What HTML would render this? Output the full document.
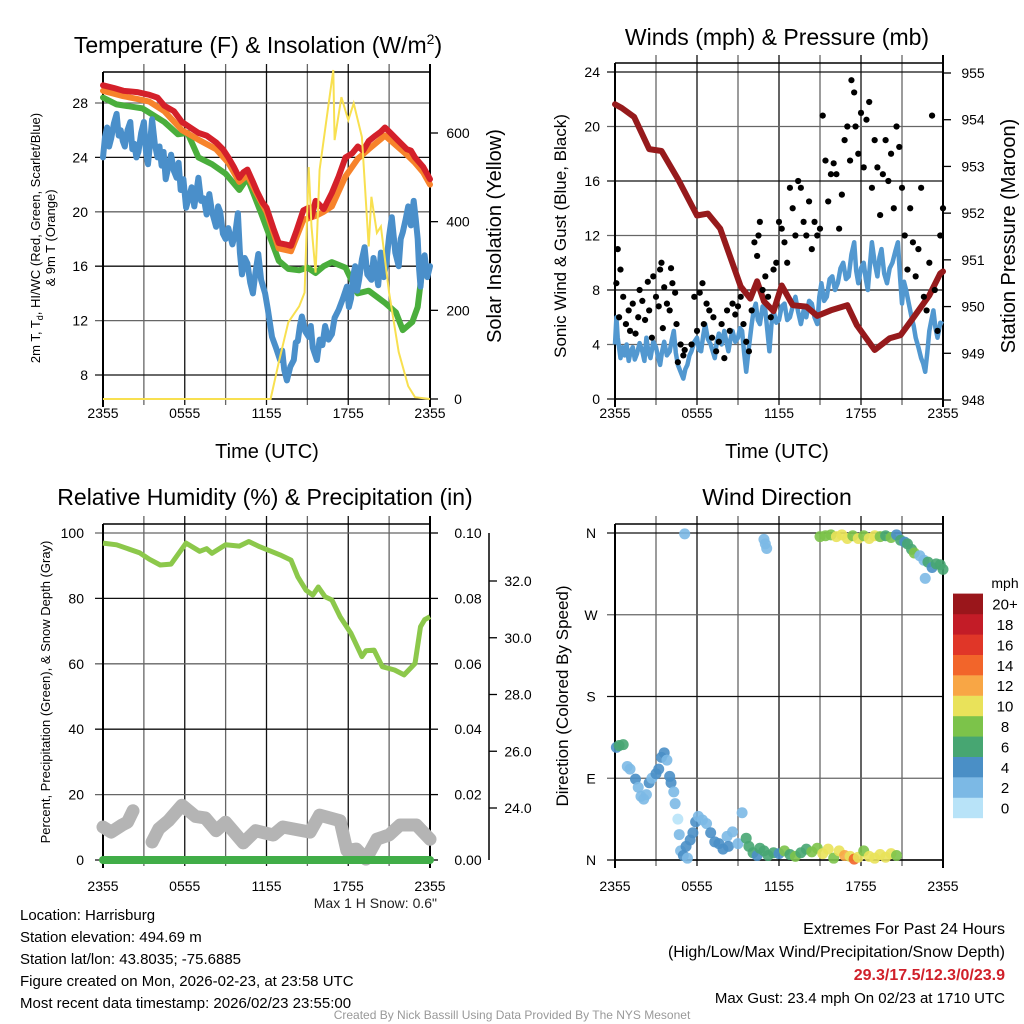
<!DOCTYPE html>
<html><head><meta charset="utf-8"><style>
html,body{margin:0;padding:0;background:#fff}
svg{display:block;font-family:"Liberation Sans",sans-serif}
</style></head><body>
<svg id="fig" width="1024" height="1024" viewBox="0 0 1024 1024">
<g id="root"></g>
</svg>
<script>
// ---------- DATA ----------
const timeTicks = ["2355","0555","1155","1755","2355"];
const tempTicks = [8,12,16,20,24,28];
const solarTicks = [0,200,400,600];
const windTicks = [0,4,8,12,16,20,24];
const presTicks = [948,949,950,951,952,953,954,955];
const rhTicks = [0,20,40,60,80,100];
const precipTicks = ["0.00","0.02","0.04","0.06","0.08","0.10"];
const snowTicks = [24,26,28,30,32];
const dirTicks = ["N","E","S","W","N"];
const speedBins = ["0","2","4","6","8","10","12","14","16","18","20+"];

const tempRed = [[0,29.3],[0.8,29.1],[1.5,28.9],[2.5,28.8],[3.4,28.6],[4,28.4],[4.5,27.8],[5.2,27.4],[5.8,26.6],[6.4,26.2],[7,25.8],[7.6,25.6],[8.3,25.1],[8.8,24.6],[9.2,24.0],[9.6,23.3],[10,22.5],[10.3,22.9],[10.6,23.1],[11,22.2],[11.3,21.5],[11.7,20.7],[12,20.3],[12.5,18.8],[12.9,17.7],[13.4,17.6],[13.8,17.5],[14.2,18.6],[14.7,20.1],[15.1,20.3],[15.3,19.6],[15.6,20.8],[16.2,20.2],[16.8,21.4],[17.3,22.6],[17.8,24.0],[18.3,24.3],[18.7,24.8],[19.1,24.5],[19.5,25.2],[20,25.6],[20.4,25.9],[20.7,26.2],[21.1,25.8],[21.5,25.4],[22,24.9],[22.3,24.6],[22.6,24.5],[22.9,24.0],[23.5,23.3],[24,22.4]];
const tempOrange = [[0,28.9],[1.5,28.5],[2.5,28.3],[3.4,28.1],[4.5,27.4],[5.8,26.0],[7,25.3],[8.3,24.6],[9.2,23.6],[10,22.2],[10.6,22.7],[11.3,21.3],[12,20.0],[12.9,17.3],[13.8,17.1],[14.7,19.4],[15.6,19.7],[16.2,20.0],[16.8,20.4],[17.3,21.5],[17.8,22.6],[18.7,23.9],[19.5,24.6],[20.7,25.6],[21.5,24.9],[22.3,24.2],[22.9,23.6],[23.5,22.9],[24,22.0]];
const tempGreen = [[0,28.4],[1,27.9],[2.9,27.6],[4.5,26.6],[5.5,25.7],[6.2,25.8],[7,24.0],[8,23.5],[9,22.8],[10,21.6],[10.6,22.5],[11.6,19.9],[12.9,16.4],[13.6,15.8],[14.4,15.7],[15,15.9],[15.6,15.5],[16.2,16.0],[16.8,16.3],[17.8,15.9],[18.7,14.0],[19.5,14.2],[20.7,13.3],[21.5,12.6],[22,11.3],[22.7,11.9],[23.1,13.0],[23.4,15.5]];
const tempBlue = [[0,24.0],[0.15,25.5],[0.3,26.2],[0.45,24.8],[0.6,25.4],[0.8,26.5],[1,27.2],[1.15,25.6],[1.3,26.0],[1.45,25.2],[1.6,24.8],[1.8,26.0],[2,26.6],[2.15,24.6],[2.3,25.0],[2.45,24.0],[2.6,24.4],[2.8,25.8],[3,26.6],[3.15,24.5],[3.3,23.5],[3.45,25.0],[3.6,26.8],[3.8,25.0],[4,24.0],[4.15,24.8],[4.3,23.4],[4.45,24.4],[4.6,22.4],[4.8,23.3],[5,24.2],[5.2,23.0],[5.4,22.5],[5.55,23.6],[5.7,21.6],[5.9,22.4],[6.1,20.3],[6.3,21.0],[6.5,21.8],[6.7,20.4],[7,22.5],[7.2,20.8],[7.4,21.0],[7.6,19.8],[7.8,21.3],[8,20.0],[8.3,18.9],[8.45,20.4],[8.6,20.0],[8.8,18.4],[9,18.0],[9.2,18.8],[9.5,17.6],[9.7,18.4],[9.9,19.9],[10.05,17.0],[10.2,15.4],[10.4,16.6],[10.6,16.2],[10.8,14.8],[11,14.0],[11.2,15.6],[11.4,16.9],[11.6,15.0],[11.9,14.0],[12.1,12.8],[12.4,10.8],[12.7,10.0],[13,9.1],[13.15,9.8],[13.3,8.4],[13.5,7.6],[13.75,8.6],[14,9.1],[14.15,10.4],[14.3,10.5],[14.45,11.6],[14.6,12.3],[14.85,11.2],[15.1,10.8],[15.25,11.6],[15.4,10.0],[15.7,9.1],[15.9,10.6],[16.1,10.2],[16.3,11.6],[16.55,10.6],[16.8,11.0],[17,12.2],[17.3,12.8],[17.6,13.6],[17.9,14.5],[18.05,13.0],[18.2,13.6],[18.35,15.2],[18.5,16.0],[18.65,14.2],[18.8,15.0],[19,16.5],[19.2,17.4],[19.4,15.4],[19.7,15.0],[19.85,16.6],[20,15.8],[20.2,14.6],[20.4,17.0],[20.6,15.2],[20.8,16.3],[21,18.2],[21.2,19.6],[21.45,17.0],[21.7,16.0],[21.85,18.0],[22,18.5],[22.2,19.4],[22.4,20.4],[22.6,19.0],[22.8,20.8],[22.95,19.5],[23.1,18.0],[23.2,15.8],[23.3,14.5],[23.45,16.2],[23.6,16.8],[23.8,15.2],[24,16.0]];
const solar = [[0,0],[12.3,0],[12.9,83],[13.6,173],[14.4,209],[14.8,240],[15.1,523],[15.3,389],[15.6,285],[15.9,517],[16.5,652],[16.9,742],[17,584],[17.5,681],[18,629],[18.4,667],[19,591],[19.5,344],[19.7,456],[20.1,375],[20.4,389],[21,240],[21.7,106],[22.4,29],[22.9,4],[24,0]];

const windSpeed = [[0,4],[0.1,6],[0.2,4.5],[0.4,3],[0.55,3.8],[0.7,3.2],[0.85,4],[1,2.8],[1.15,3.5],[1.3,3.8],[1.45,2.9],[1.6,3.3],[1.8,4.1],[2,3.5],[2.15,2.8],[2.3,4.5],[2.45,3.4],[2.6,3],[2.8,4.2],[3,3.8],[3.15,3.1],[3.3,2.5],[3.45,3.5],[3.6,4.2],[3.8,3.2],[4,3.5],[4.15,4.3],[4.3,5],[4.45,3.4],[4.6,2.5],[4.8,2],[5,1.5],[5.15,2.2],[5.3,2.5],[5.45,3.2],[5.6,3.5],[5.8,4.2],[6,4.5],[6.15,3.6],[6.3,3.5],[6.45,4.6],[6.6,5.5],[6.8,4.4],[7,4],[7.15,3.5],[7.3,3],[7.45,4.2],[7.6,4.8],[7.8,4],[8,5],[8.15,4.2],[8.3,3.5],[8.45,4.4],[8.6,5],[8.8,4.2],[9,4.5],[9.15,5.2],[9.3,5],[9.45,3.4],[9.6,2],[9.8,3.8],[10,5.5],[10.15,6.5],[10.3,7],[10.45,5.8],[10.6,5.5],[10.8,6.8],[11,6.5],[11.15,5],[11.3,3.5],[11.45,5.5],[11.6,6.5],[11.8,5.6],[12,5.8],[12.2,6.8],[12.4,7],[12.6,5.8],[12.8,6],[13,6.8],[13.2,7.5],[13.4,6.4],[13.6,5.5],[13.8,6.5],[14,6],[14.2,7.2],[14.4,7],[14.6,6],[14.8,5.5],[14.95,7.5],[15.1,8.5],[15.3,7.2],[15.5,7.5],[15.7,8.8],[15.9,9],[16.1,8],[16.3,8.5],[16.5,9.6],[16.7,10],[16.9,8.8],[17.1,9],[17.3,10.6],[17.5,11.5],[17.65,9.4],[17.8,8.5],[18,9.6],[18.2,10],[18.35,8.8],[18.5,8],[18.65,9.8],[18.8,11.5],[19,10],[19.2,9],[19.35,10.4],[19.5,11],[19.7,9.2],[19.9,8.5],[20.1,9.6],[20.3,10],[20.5,10.8],[20.7,11.5],[20.85,9],[21,7],[21.15,8.6],[21.3,8],[21.5,7],[21.7,6],[21.85,5.4],[22,4.5],[22.2,3.8],[22.4,3],[22.55,2.6],[22.7,2],[22.85,3.4],[23,5],[23.15,5.8],[23.3,6.5],[23.45,5.2],[23.6,4.5],[23.8,5.6],[24,5.5]];
const windGust = [[0.1,8.5],[0.2,11],[0.3,6],[0.4,9.5],[0.6,7.5],[0.8,5.5],[1,6.5],[1.1,5],[1.3,7],[1.5,4.8],[1.7,6],[1.8,8],[2,7.2],[2.2,5.8],[2.4,8.6],[2.5,6.5],[2.7,4.5],[2.8,9],[3,7.5],[3.2,6.8],[3.3,9.5],[3.4,10],[3.5,5.2],[3.6,8.2],[3.8,7],[4,6.5],[4.1,9.6],[4.2,8.5],[4.4,7.8],[4.5,5.5],[4.6,2.7],[4.8,4],[5,3.2],[5.1,3.6],[5.6,4],[5.8,7.5],[6,5],[6.2,7.8],[6.4,8.5],[6.5,5.5],[6.7,7],[6.9,6.5],[7.1,4.5],[7.2,6],[7.4,3.5],[7.6,4.2],[7.8,5.5],[8,3],[8.2,6.5],[8.4,5],[8.6,7],[8.8,6.2],[9,6.8],[9.2,7.5],[9.4,5.5],[9.6,4.2],[9.8,3.5],[10,6.5],[10.2,11.5],[10.4,10.5],[10.5,12],[10.6,13],[10.8,8],[11,9],[11.2,7.5],[11.4,6],[11.6,9.5],[11.8,10],[12,13],[12.2,12.5],[12.4,11.5],[12.6,10],[12.8,15.5],[13,14],[13.2,12],[13.4,16],[13.6,15.5],[13.8,13],[14,12],[14.2,14.5],[14.4,11],[14.6,13],[14.8,12],[15,12.5],[15.2,20.8],[15.4,17.5],[15.6,14.5],[15.8,16.5],[16,17.3],[16.2,16.5],[16.4,12.5],[16.6,15],[16.8,19],[17,20],[17.2,17.5],[17.3,23.4],[17.5,22.5],[17.6,20],[17.8,18],[18,21],[18.2,17],[18.4,20.5],[18.6,21.8],[18.8,15.5],[19,19],[19.2,17],[19.4,13.5],[19.6,16.5],[19.8,19],[20,16],[20.2,18],[20.4,14],[20.6,20],[20.8,18.5],[21,15.5],[21.2,12],[21.4,9.5],[21.6,14],[21.8,11.5],[22,9],[22.2,11],[22.4,15.5],[22.6,7.5],[22.8,6.5],[23,10],[23.2,20.8],[23.4,8],[23.6,5],[23.8,12],[24,14]];
const pressure = [[0,954.33],[0.5,954.25],[1.4,954.06],[2.5,953.37],[3.4,953.33],[4.6,952.73],[6,951.95],[6.8,951.99],[7.7,951.67],[9.2,950.43],[9.9,950.17],[10.4,950.54],[10.9,950.11],[11.6,949.9],[12.2,950.45],[13,950.03],[14,950],[14.8,949.8],[15.8,949.92],[17,950.03],[17.7,949.6],[19,949.07],[20.1,949.32],[20.9,949.39],[21.8,949.75],[23,950.24],[23.8,950.71],[24,950.75]];

const rh = [[0,96.9],[1,96.4],[2.7,93.9],[3.4,92],[4.2,90.2],[5,90.5],[6.1,96.9],[7.1,94.4],[7.6,95.2],[8,93.8],[9,96.4],[10,96],[10.7,97.4],[11.5,95.8],[13,93.3],[13.8,91.7],[14.3,86.6],[14.9,82.5],[15.4,81],[15.8,83.5],[16.3,80.5],[16.8,79.5],[17.4,74.4],[18.2,69.3],[19,62.2],[19.3,64],[19.9,64.2],[20.5,59.1],[21.4,58.1],[22.1,56.6],[22.9,60.1],[23.3,71.3],[23.6,73.5],[24,74.4]];
const precip = [[0,0],[24,0]];
const snowA = [[0,23.33],[0.6,23.15],[1.4,23.4],[1.8,23.5],[2.2,23.9]];
const snowB = [[3.6,22.8],[4.1,23.27],[4.8,23.55],[5.8,24.1],[6.8,23.7],[7.5,23.65],[8.3,23.2],[9,23.5],[10.3,22.77],[11.2,23.2],[12.5,23.05],[13.2,23.33],[15.2,23.15],[15.9,23.75],[17.4,23.55],[17.9,22.5],[18.6,22.55],[19.3,22.2],[20.1,22.9],[21,23.05],[21.8,23.4],[23,23.4],[24,22.9]];

const dirTime  = [0.1,0.3,0.6,0.9,1.1,1.5,1.7,1.9,2.1,2.3,2.5,2.7,3,3.2,3.4,3.6,3.8,4,4.1,4.3,4.4,4.6,4.7,4.8,5,5.2,5.3,5.5,5.7,5.9,6.1,6.4,6.7,7,7.3,7.6,7.9,8.2,8.3,8.6,9,9.3,9.6,9.8,10.1,10.4,10.6,10.9,11.2,11.6,12,12.4,12.8,13.2,13.6,14,14.4,14.8,15.2,15.6,16,16.4,16.8,17.2,17.5,17.8,18.2,18.6,19,19.4,19.8,20.2,20.6,5.1,10.9,11,11.1,15,15.4,15.8,16.2,16.6,17,17.4,17.8,18.2,18.6,19,19.4,19.8,20.2,20.6,20.9,21.2,21.4,21.7,21.9,22.3,22.6,22.9,23.2,23.5,23.8,24,22.7];
const dirDeg   = [124,126,127,103,100,89,80,70,67,72,85,90,95,100,113,118,110,92,85,75,62,45,28,10,5,15,2,22,30,42,48,44,40,30,20,18,12,26,15,31,18,52,24,15,8,5,13,10,5,8,7,10,6,4,8,12,9,13,7,12,2,10,5,4,1,3,10,4,2,6,3,7,5,359,353,348,343,356,357,358,356,358,354,357,354,357,354,357,356,357,355,358,352,350,348,342,338,335,330,328,322,326,325,320,310];
const dirSpeed = [4,6,6,2,2,4,2,2,2,2,4,2,4,4,4,4,2,4,4,2,2,0,2,2,4,4,2,4,4,4,2,2,2,4,4,4,4,2,4,2,2,2,6,6,6,4,6,6,6,6,4,8,6,8,6,6,8,8,10,10,8,10,12,10,14,10,8,10,10,10,10,10,8,2,2,2,2,8,8,8,10,10,10,8,10,8,10,10,8,6,8,4,6,4,6,6,8,2,2,6,4,6,6,6,2];
const binColors = ["#b8e3f8","#7cb9e5","#4a8fc6","#47a672","#7cc34a","#e9e25a","#f8a645","#f2652a","#e03628","#c31c27","#9a161b"];

// ---------- HELPERS ----------
const NS="http://www.w3.org/2000/svg";
const root=document.getElementById('root');
function mk(tag,attrs,parent){const e=document.createElementNS(NS,tag);for(const k in attrs)e.setAttribute(k,attrs[k]);(parent||root).appendChild(e);return e;}
function txt(s,x,y,size,anchor,parent,extra){const e=mk('text',Object.assign({x:x,y:y,'font-size':size,'text-anchor':anchor||'middle',fill:'#000'},extra||{}),parent);e.textContent=s;return e;}
function lin(d0,d1,r0,r1){return v=>r0+(v-d0)/(d1-d0)*(r1-r0);}
function pathFrom(pts,fx,fy){return pts.map((p,i)=>(i?'L':'M')+fx(p[0]).toFixed(1)+' '+fy(p[1]).toFixed(1)).join(' ');}
function grp(name){const g=mk('g',{});return g;}

function gridAndFrame(g,L,R,T,B,fx,ys,tickOff){
  for(let h=3;h<24;h+=3){const x=fx(h);mk('line',{x1:x,x2:x,y1:T-8,y2:B+6,stroke:(h%6?'#666':'#111'),'stroke-width':1.3},g);}
  ys.forEach((y,i)=>mk('line',{x1:L-8,x2:R,y1:y,y2:y,stroke:(i%2?'#666':'#111'),'stroke-width':1.3},g));
  mk('line',{x1:L,x2:L,y1:T,y2:B+8,stroke:'#000','stroke-width':2},g);
  mk('line',{x1:R,x2:R,y1:T-8,y2:B+8,stroke:'#000','stroke-width':2},g);
  mk('line',{x1:L,x2:R,y1:B,y2:B,stroke:'#000','stroke-width':1.5},g);
  mk('line',{x1:L,x2:R,y1:T,y2:T,stroke:'#000','stroke-width':1.5},g);
  timeTicks.forEach((t,i)=>{const x=fx(i*6);const e=txt(t,x,B+tickOff,14,'middle',g);});
}

// ---------- PANEL 1: TEMPERATURE ----------
(function(){
  const g=grp('temperature-panel');
  const L=103,R=430,T=72,B=399;
  const fx=lin(0,24,L,R), fy=lin(8,28,375,103), fs=lin(0,600,399,133);
  gridAndFrame(g,L,R,T,B,fx,tempTicks.map(fy),19);
  tempTicks.forEach(v=>{const e=txt(String(v),88,fy(v)+5,14,'end',g);});
  solarTicks.forEach(v=>{mk('line',{x1:R,x2:R+8,y1:fs(v),y2:fs(v),stroke:'#000','stroke-width':1.3},g);const e=txt(String(v),R+28,fs(v)+5,14,'middle',g);});
  [[tempGreen,'#4aae3c','dewpoint-line'],[tempOrange,'#f7832b','temp-9m-line'],[tempRed,'#d4202a','temp-2m-line'],[tempBlue,'#4a8fca','windchill-line']].forEach(s=>{
    const p=mk('path',{d:pathFrom(s[0],fx,fy),fill:'none',stroke:s[1],'stroke-width':6,'stroke-linejoin':'round','stroke-linecap':'round'},g);
    
  });
  const sp=mk('path',{d:pathFrom(solar,fx,fs),fill:'none',stroke:'#f8e050','stroke-width':2},g);
  
  const t=txt('Temperature (F) & Insolation (W/m',258,53,23,'middle',g);
  const ts=mk('tspan',{dy:-9,'font-size':14},t);ts.textContent='2';const ts2=mk('tspan',{dy:9,'font-size':23},t);ts2.textContent=')';
  const yl=mk('text',{transform:'translate(40,238) rotate(-90)','font-size':13,'text-anchor':'middle'},g);
  
  yl.innerHTML='2m T, T<tspan font-size="9" dy="3">d</tspan><tspan dy="-3">, HI/WC (Red, Green, Scarlet/Blue)</tspan>';
  const yl2=txt('& 9m T (Orange)',0,0,13,'middle',g,{transform:'translate(55,238) rotate(-90)'});
  const yr=txt('Solar Insolation (Yellow)',0,0,20,'middle',g,{transform:'translate(501,236) rotate(-90)'});
  const xt=txt('Time (UTC)',267,458,20,'middle',g);
})();

// ---------- PANEL 2: WINDS ----------
(function(){
  const g=grp('winds-panel');
  const L=615,R=943,T=63,B=399;
  const fx=lin(0,24,L,R), fy=lin(0,24,399,72), fp=lin(948,955,400,73);
  gridAndFrame(g,L,R,T,B,fx,windTicks.map(fy),19);
  windTicks.forEach(v=>{const e=txt(String(v),600,fy(v)+5,14,'end',g);});
  presTicks.forEach(v=>{mk('line',{x1:R,x2:R+8,y1:fp(v),y2:fp(v),stroke:'#000','stroke-width':1.3},g);const e=txt(String(v),R+30,fp(v)+5,14,'middle',g);});
  const bp=mk('path',{d:pathFrom(windSpeed,fx,fy),fill:'none',stroke:'#5298d0','stroke-width':4.5,'stroke-linejoin':'round'},g);
  
  const pp=mk('path',{d:pathFrom(pressure,fx,fp),fill:'none',stroke:'#961a1c','stroke-width':6,'stroke-linejoin':'round','stroke-linecap':'round'},g);
  
  windGust.forEach(p=>{const c=mk('circle',{cx:fx(p[0]),cy:fy(p[1]),r:3.1,fill:'#000'},g);
    
    });
  const t=txt('Winds (mph) & Pressure (mb)',777,45,23,'middle',g);
  const yl=txt('Sonic Wind & Gust (Blue, Black)',0,0,17,'middle',g,{transform:'translate(566,236) rotate(-90)'});
  const yr=txt('Station Pressure (Maroon)',0,0,20,'middle',g,{transform:'translate(1015,236) rotate(-90)'});
  const xt=txt('Time (UTC)',777,458,20,'middle',g);
})();

// ---------- PANEL 3: RH ----------
(function(){
  const g=grp('humidity-panel');
  const L=103,R=430,T=524,B=860;
  const fx=lin(0,24,L,R), fy=lin(0,100,860,533), fsn=lin(24,32,808,581);
  gridAndFrame(g,L,R,T,B,fx,rhTicks.map(fy),31);
  rhTicks.forEach(v=>{const e=txt(String(v),84,fy(v)+5,14,'end',g);});
  precipTicks.forEach((v,i)=>{const y=fy(i*20);mk('line',{x1:R,x2:R+8,y1:y,y2:y,stroke:'#000','stroke-width':1.3},g);const e=txt(v,R+38,y+5,14,'middle',g);});
  mk('line',{x1:489,x2:489,y1:533,y2:860,stroke:'#000','stroke-width':1.5},g);
  snowTicks.forEach(v=>{const y=fsn(v);mk('line',{x1:489,x2:497,y1:y,y2:y,stroke:'#000','stroke-width':1.3},g);const e=txt(v.toFixed(1),518,y+5,14,'middle',g);});
  [snowA,snowB].forEach(s=>{const p=mk('path',{d:pathFrom(s,fx,fsn),fill:'none',stroke:'#b4b4b4','stroke-width':13,'stroke-linejoin':'round','stroke-linecap':'round'},g);
    });
  const fpr=lin(0,0.1,860,533);
  const pr=mk('path',{d:pathFrom(precip,fx,fpr),fill:'none',stroke:'#41ad48','stroke-width':8,'stroke-linecap':'round'},g);
  
  const rp=mk('path',{d:pathFrom(rh,fx,fy),fill:'none',stroke:'#8cc84b','stroke-width':5,'stroke-linejoin':'round'},g);
  
  const t=txt('Relative Humidity (%) & Precipitation (in)',265,505,23,'middle',g);
  const yl=txt('Percent, Precipitation (Green), & Snow Depth (Gray)',0,0,13,'middle',g,{transform:'translate(50,692) rotate(-90)'});
  const ms=txt('Max 1 H Snow: 0.6"',437,908,14,'end',g,{fill:'#222'});
})();

// ---------- PANEL 4: WIND DIRECTION ----------
(function(){
  const g=grp('wind-direction-panel');
  const L=615,R=943,T=524,B=860;
  const fx=lin(0,24,L,R), fy=lin(0,360,860,533);
  gridAndFrame(g,L,R,T,B,fx,[0,90,180,270,360].map(fy),31);
  dirTicks.forEach((v,i)=>{const e=txt(v,591,fy(i*90)+5,14,'middle',g);});
  dirTime.forEach((h,i)=>{const bin=Math.min(10,Math.floor(dirSpeed[i]/2));
    const c=mk('circle',{cx:fx(h),cy:fy(dirDeg[i]),r:5.5,fill:binColors[bin],'fill-opacity':0.9},g);
    
    });
  const t=txt('Wind Direction',777,505,23,'middle',g);
  const yl=txt('Direction (Colored By Speed)',0,0,17,'middle',g,{transform:'translate(568,696) rotate(-90)'});
  const cb=grp('speed-colorbar');
  speedBins.forEach((lab,i)=>{const y=818-(i+1)*20.4;
    const r=mk('rect',{x:953,y:y,width:30,height:20.6,fill:binColors[i]},cb);
    
    const e=txt(lab,1005,y+16,15,'middle',cb);});
  const m=txt('mph',1005,588,14,'middle',cb);
})();

// ---------- FOOTER TEXT ----------
(function(){
  const g=grp('station-info');
  ["Location: Harrisburg","Station elevation: 494.69 m","Station lat/lon: 43.8035; -75.6885","Figure created on Mon, 2026-02-23, at 23:58 UTC","Most recent data timestamp: 2026/02/23 23:55:00"].forEach((s,i)=>{
    const e=txt(s,20,920+i*22,15,'start',g);});
  const g2=grp('extremes-info');
  const a=txt('Extremes For Past 24 Hours',1005,934,16,'end',g2);
  const b=txt('(High/Low/Max Wind/Precipitation/Snow Depth)',1005,957,16,'end',g2);
  const c=txt('29.3/17.5/12.3/0/23.9',1005,980,16,'end',g2,{fill:'#d0202a','font-weight':'bold'});
  const d=txt('Max Gust: 23.4 mph On 02/23 at 1710 UTC',1005,1003,15,'end',g2);
  const f=txt('Created By Nick Bassill Using Data Provided By The NYS Mesonet',512,1019,12,'middle',root,{fill:'#999'});
})();
</script>
</body></html>
